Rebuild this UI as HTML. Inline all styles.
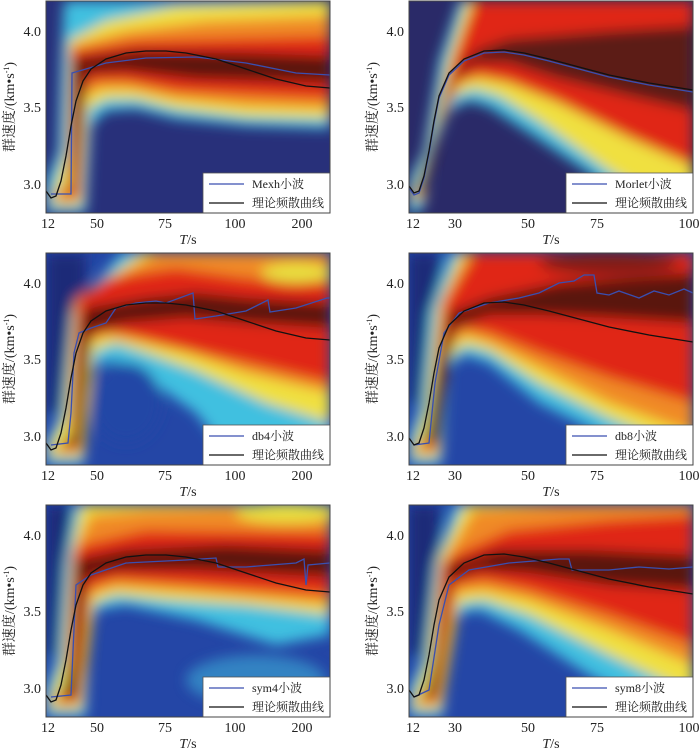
<!DOCTYPE html>
<html><head><meta charset="utf-8"><style>
html,body{margin:0;padding:0;background:#fff;}
svg{display:block;}
text{font-family:"Liberation Serif","Noto Serif CJK SC",serif;fill:#222;}
</style></head><body>
<svg width="700" height="751" viewBox="0 0 700 751" xmlns="http://www.w3.org/2000/svg">
<defs>
<filter id="b" x="-10%" y="-10%" width="120%" height="120%"><feGaussianBlur stdDeviation="6.5"/></filter>
<clipPath id="c"><rect x="0" y="0" width="284" height="212"/></clipPath>
<g id="leg1"><rect x="157" y="172" width="127" height="40" fill="#fff" stroke="#555" stroke-width="0.8"/>
<line x1="163" y1="183" x2="198" y2="183" stroke="#3a4fb0" stroke-width="1.3"/>
<line x1="163" y1="202" x2="198" y2="202" stroke="#111" stroke-width="1.3"/></g>
</defs>

<!-- P1 Mexh -->
<g transform="translate(46,1)">
<g clip-path="url(#c)">
<rect width="284" height="212" fill="#28307a"/>
<g filter="url(#b)">
<polygon fill="#40c0e0" points="18,0 284,0 284,128 200,125 130,118 90,108 60,110 45,125 40,212 0,212 0,180 12,150 15,60"/>
<polygon fill="#f0e040" points="22,40 60,20 130,5 284,0 284,118 200,116 130,108 90,98 60,98 42,108 36,205 5,205 8,190 20,150 22,60"/>
<polygon fill="#f08a28" points="24,45 80,30 160,20 284,15 284,108 200,105 130,98 85,88 55,88 40,96 34,200 8,200 12,190 22,185"/>
<polygon fill="#e02818" points="25,50 90,40 284,35 284,98 130,90 80,80 50,80 38,86 32,196 10,196 24,188"/>
<polygon fill="#5a1810" points="27,58 90,50 200,52 284,55 284,82 150,78 80,70 40,72 30,190 18,192 27,186"/>
</g>
<polyline fill="none" stroke="#3a4fb0" stroke-width="1.3" points="5,193 25,193 26,72 40,68 60,62 100,57 150,56 200,62 250,72 284,74"/>
<polyline fill="none" stroke="#111" stroke-width="1.3" points="0,190 5,197 10,195 15,180 20,155 25,125 30,100 37,80 45,68 60,58 80,52 100,50 120,50 140,52 170,58 200,68 230,78 260,85 284,87"/>
<use href="#leg1"/>
<text x="206" y="187" font-size="12">Mexh小波</text>
<text x="206" y="206" font-size="12">理论频散曲线</text>
</g>
<rect width="284" height="212" fill="none" stroke="#444" stroke-width="1"/>
</g>

<!-- P2 Morlet -->
<g transform="translate(409,1)">
<g clip-path="url(#c)">
<rect width="284" height="212" fill="#2a2a68"/>
<g filter="url(#b)">
<polygon fill="#40c0e0" points="50,0 284,0 284,212 230,212 180,172 120,132 80,106 60,100 40,110 25,150 15,205 8,212 0,212 0,185 2,175 15,150 30,60"/>
<polygon fill="#f0e040" points="57,0 284,0 284,212 270,212 200,170 130,120 90,95 65,88 45,95 25,140 15,200 2,200 5,188 20,150 38,60"/>
<polygon fill="#e02818" points="65,0 284,0 284,165 220,137 150,102 100,82 70,76 50,82 28,130 14,196 4,196 8,190 22,150 45,55"/>
<polygon fill="#5c1c12" points="70,48 100,38 200,30 284,25 284,110 220,95 150,78 100,62 65,62 45,80 30,130 16,192 8,192 22,150 40,85 55,60"/>
</g>
<polyline fill="none" stroke="#3a4fb0" stroke-width="1.3" points="0,187 5,194 10,192 15,177 20,152 25,122 30,97 40,74 55,60 75,52 95,51 115,54 140,60 170,68 200,76 240,84 284,91"/>
<polyline fill="none" stroke="#111" stroke-width="1.3" points="0,185 5,192 10,190 15,175 20,150 25,120 30,95 40,72 55,58 75,50 95,49 115,52 140,58 170,66 200,74 240,82 284,89"/>
<use href="#leg1"/>
<text x="206" y="187" font-size="12">Morlet小波</text>
<text x="206" y="206" font-size="12">理论频散曲线</text>
</g>
<rect width="284" height="212" fill="none" stroke="#444" stroke-width="1"/>
</g>

<!-- P3 db4 -->
<g transform="translate(46,253)">
<g clip-path="url(#c)">
<rect width="284" height="212" fill="#2446a6"/>
<g filter="url(#b)">
<rect x="0" y="0" width="40" height="160" fill="#1c2a78"/>
<polygon fill="#40c0e0" points="75,0 284,0 284,212 190,212 150,160 100,125 70,108 48,112 40,140 38,212 0,212 0,190 15,160 25,60"/>
<polygon fill="#f0e040" points="95,0 284,0 284,170 220,150 150,118 100,100 70,90 48,98 37,205 3,205 5,192 20,160 28,50"/>
<polygon fill="#f08a28" points="110,0 284,0 284,140 200,120 140,100 90,88 60,82 42,90 35,200 6,200 24,185 30,45"/>
<polygon fill="#e02818" points="60,25 130,15 200,25 284,30 284,130 200,110 120,92 70,80 45,84 34,196 10,196 26,188 32,48"/>
<polygon fill="#5a1810" points="40,55 100,45 150,40 200,45 284,50 284,75 200,70 140,65 80,70 45,78 33,192 16,192 28,180 35,70"/>
<ellipse cx="250" cy="20" rx="35" ry="10" fill="#e8e040"/>
<ellipse cx="80" cy="150" rx="35" ry="40" fill="#2446a6"/>
</g>
<polyline fill="none" stroke="#3a4fb0" stroke-width="1.3" points="5,192 22,190 25,160 28,100 33,80 45,75 60,70 70,55 90,50 110,48 120,50 147,40 149,66 170,63 200,58 222,47 224,59 250,55 281,45 284,45"/>
<polyline fill="none" stroke="#111" stroke-width="1.3" points="0,190 5,197 10,195 15,180 20,155 25,125 30,100 37,80 45,68 60,58 80,52 100,50 120,50 140,52 170,58 200,68 230,78 260,85 284,87"/>
<use href="#leg1"/>
<text x="206" y="187" font-size="12">db4小波</text>
<text x="206" y="206" font-size="12">理论频散曲线</text>
</g>
<rect width="284" height="212" fill="none" stroke="#444" stroke-width="1"/>
</g>

<!-- P4 db8 -->
<g transform="translate(409,253)">
<g clip-path="url(#c)">
<rect width="284" height="212" fill="#2446a6"/>
<g filter="url(#b)">
<rect x="0" y="0" width="30" height="150" fill="#1c2a78"/>
<polygon fill="#40c0e0" points="40,0 284,0 284,212 270,212 200,185 130,150 80,110 55,102 40,115 32,212 0,212 0,185 12,150 20,60"/>
<polygon fill="#f0e040" points="50,0 284,0 284,200 200,165 130,130 80,98 55,92 38,110 30,205 3,205 5,192 18,150 28,55"/>
<polygon fill="#f08a28" points="58,0 284,0 284,180 200,150 130,115 80,90 55,82 36,100 28,200 6,200 20,180 32,50"/>
<polygon fill="#e02818" points="66,0 284,0 284,150 200,125 130,100 80,80 55,75 34,92 26,196 10,196 22,180 36,50"/>
<polygon fill="#5a1810" points="40,60 80,45 150,30 284,20 284,70 200,65 130,62 80,62 45,75 30,190 16,190 28,120"/>
<ellipse cx="200" cy="10" rx="70" ry="12" fill="#5a1810" opacity="0.7"/>
</g>
<polyline fill="none" stroke="#3a4fb0" stroke-width="1.3" points="5,192 20,190 26,130 35,80 50,60 80,50 110,45 130,40 140,35 150,30 165,28 175,22 185,22 188,40 200,42 210,38 230,45 245,38 260,42 275,36 284,40"/>
<polyline fill="none" stroke="#111" stroke-width="1.3" points="0,185 5,192 10,190 15,175 20,150 25,120 30,95 40,72 55,58 75,50 95,49 115,52 140,58 170,66 200,74 240,82 284,89"/>
<use href="#leg1"/>
<text x="206" y="187" font-size="12">db8小波</text>
<text x="206" y="206" font-size="12">理论频散曲线</text>
</g>
<rect width="284" height="212" fill="none" stroke="#444" stroke-width="1"/>
</g>

<!-- P5 sym4 -->
<g transform="translate(46,505)">
<g clip-path="url(#c)">
<rect width="284" height="212" fill="#2446a6"/>
<g filter="url(#b)">
<rect x="0" y="0" width="25" height="150" fill="#1c2a78"/>
<ellipse cx="210" cy="175" rx="70" ry="25" fill="#40c0e0" opacity="0.5"/>
<polygon fill="#40c0e0" points="28,0 284,0 284,130 230,140 150,115 80,100 50,105 42,130 40,212 0,212 0,185 12,150 18,60"/>
<polygon fill="#f0e040" points="35,0 100,0 284,0 284,110 200,100 120,95 70,90 48,98 36,205 3,205 5,192 18,150 24,55"/>
<polygon fill="#f08a28" points="45,10 100,5 284,0 284,100 150,88 70,82 45,90 34,200 6,200 20,180 26,50"/>
<polygon fill="#e02818" points="35,40 100,25 284,28 284,90 150,80 70,74 44,82 32,196 10,196 24,180 28,50"/>
<polygon fill="#5a1810" points="30,55 80,45 180,40 284,45 284,72 150,65 70,65 40,72 30,192 16,192 27,150"/>
<ellipse cx="240" cy="8" rx="50" ry="10" fill="#e8e040"/>
</g>
<polyline fill="none" stroke="#3a4fb0" stroke-width="1.3" points="5,192 25,190 30,80 45,70 80,58 140,55 170,53 172,62 200,62 250,58 258,54 260,80 262,60 284,58"/>
<polyline fill="none" stroke="#111" stroke-width="1.3" points="0,190 5,197 10,195 15,180 20,155 25,125 30,100 37,80 45,68 60,58 80,52 100,50 120,50 140,52 170,58 200,68 230,78 260,85 284,87"/>
<use href="#leg1"/>
<text x="206" y="187" font-size="12">sym4小波</text>
<text x="206" y="206" font-size="12">理论频散曲线</text>
</g>
<rect width="284" height="212" fill="none" stroke="#444" stroke-width="1"/>
</g>

<!-- P6 sym8 -->
<g transform="translate(409,505)">
<g clip-path="url(#c)">
<rect width="284" height="212" fill="#2446a6"/>
<g filter="url(#b)">
<rect x="0" y="0" width="30" height="150" fill="#1c2a78"/>
<polygon fill="#40c0e0" points="45,0 284,0 284,212 260,212 180,170 110,125 70,105 48,110 38,140 34,212 0,212 0,185 15,150 25,60"/>
<polygon fill="#f0e040" points="55,0 284,0 284,190 200,150 120,110 75,95 50,98 32,205 3,205 5,192 20,150 30,55"/>
<polygon fill="#f08a28" points="65,5 150,0 284,0 284,160 200,125 120,95 75,85 48,88 30,200 6,200 22,180 35,55"/>
<polygon fill="#e02818" points="45,50 100,25 200,15 284,10 284,140 200,110 120,85 75,75 46,80 28,196 10,196 24,180 32,60"/>
<polygon fill="#5a1810" points="40,60 90,45 180,45 284,50 284,85 200,80 120,68 70,65 42,75 26,192 16,192 28,140"/>
</g>
<polyline fill="none" stroke="#3a4fb0" stroke-width="1.3" points="5,192 20,185 30,120 40,80 60,65 100,58 150,54 160,54 163,65 200,65 230,62 260,64 284,62"/>
<polyline fill="none" stroke="#111" stroke-width="1.3" points="0,185 5,192 10,190 15,175 20,150 25,120 30,95 40,72 55,58 75,50 95,49 115,52 140,58 170,66 200,74 240,82 284,89"/>
<use href="#leg1"/>
<text x="206" y="187" font-size="12">sym8小波</text>
<text x="206" y="206" font-size="12">理论频散曲线</text>
</g>
<rect width="284" height="212" fill="none" stroke="#444" stroke-width="1"/>
</g>

<!-- Axis labels -->
<g font-size="14">
<g text-anchor="end">
<text x="41" y="36">4.0</text><text x="41" y="112">3.5</text><text x="41" y="189">3.0</text>
<text x="404" y="36">4.0</text><text x="404" y="112">3.5</text><text x="404" y="189">3.0</text>
<text x="41" y="288">4.0</text><text x="41" y="364">3.5</text><text x="41" y="441">3.0</text>
<text x="404" y="288">4.0</text><text x="404" y="364">3.5</text><text x="404" y="441">3.0</text>
<text x="41" y="540">4.0</text><text x="41" y="616">3.5</text><text x="41" y="693">3.0</text>
<text x="404" y="540">4.0</text><text x="404" y="616">3.5</text><text x="404" y="693">3.0</text>
</g>
<g text-anchor="middle">
<text x="48" y="228">12</text><text x="97" y="228">50</text><text x="165" y="228">75</text><text x="235" y="228">100</text><text x="302" y="228">200</text>
<text x="413" y="228">12</text><text x="455" y="228">30</text><text x="528" y="228">50</text><text x="597" y="228">75</text><text x="689" y="228">100</text>
<text x="48" y="480">12</text><text x="97" y="480">50</text><text x="165" y="480">75</text><text x="235" y="480">100</text><text x="302" y="480">200</text>
<text x="413" y="480">12</text><text x="455" y="480">30</text><text x="528" y="480">50</text><text x="597" y="480">75</text><text x="689" y="480">100</text>
<text x="48" y="732">12</text><text x="97" y="732">50</text><text x="165" y="732">75</text><text x="235" y="732">100</text><text x="302" y="732">200</text>
<text x="413" y="732">12</text><text x="455" y="732">30</text><text x="528" y="732">50</text><text x="597" y="732">75</text><text x="689" y="732">100</text>
<text x="188" y="244"><tspan font-style="italic">T</tspan>/s</text><text x="551" y="244"><tspan font-style="italic">T</tspan>/s</text>
<text x="188" y="496"><tspan font-style="italic">T</tspan>/s</text><text x="551" y="496"><tspan font-style="italic">T</tspan>/s</text>
<text x="188" y="748"><tspan font-style="italic">T</tspan>/s</text><text x="551" y="748"><tspan font-style="italic">T</tspan>/s</text>
<text transform="translate(14,107) rotate(-90)">群速度/(km•s<tspan font-size="8" dy="-5">-1</tspan><tspan dy="5">)</tspan></text>
<text transform="translate(377,107) rotate(-90)">群速度/(km•s<tspan font-size="8" dy="-5">-1</tspan><tspan dy="5">)</tspan></text>
<text transform="translate(14,359) rotate(-90)">群速度/(km•s<tspan font-size="8" dy="-5">-1</tspan><tspan dy="5">)</tspan></text>
<text transform="translate(377,359) rotate(-90)">群速度/(km•s<tspan font-size="8" dy="-5">-1</tspan><tspan dy="5">)</tspan></text>
<text transform="translate(14,611) rotate(-90)">群速度/(km•s<tspan font-size="8" dy="-5">-1</tspan><tspan dy="5">)</tspan></text>
<text transform="translate(377,611) rotate(-90)">群速度/(km•s<tspan font-size="8" dy="-5">-1</tspan><tspan dy="5">)</tspan></text>
</g>
</g>
</svg>
</body></html>
